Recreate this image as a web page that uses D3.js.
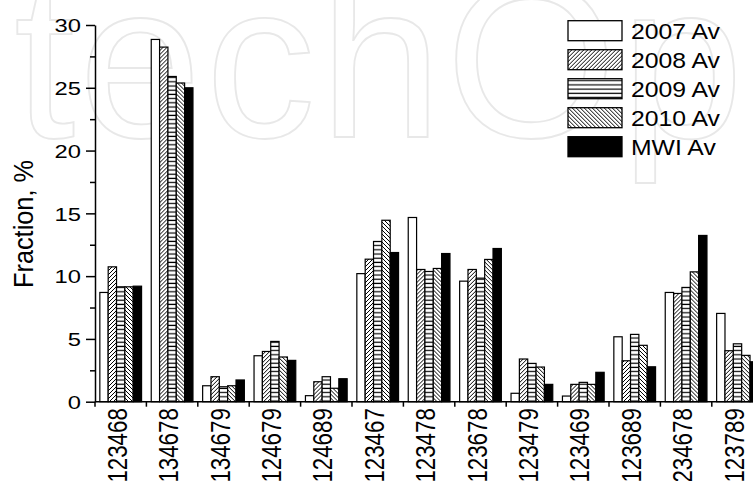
<!DOCTYPE html>
<meta charset="utf-8">
<html>
<head>
<title>Fraction chart</title>
<style>
  body { margin: 0; background: #fff; }
  svg { display: block; font-family: 'Liberation Sans', Arial, sans-serif; }
</style>
</head>
<body>
<div id="chart"></div>
<script src="https://cdn.jsdelivr.net/npm/d3@7"></script>
<script>

// data
var categories = ["123468","134678","134679","124679","124689","123467","123478",
                  "123678","123479","123469","123689","234678","123789"];
var seriesNames = ["2007 Av","2008 Av","2009 Av","2010 Av","MWI Av"];
var av2007 = [8.7, 28.85, 1.27, 3.66, 0.48, 10.2, 14.67, 9.6, 0.67, 0.45, 5.17, 8.7, 7.03];
var av2008 = [10.74, 28.24, 1.99, 4.0, 1.59, 11.35, 10.53, 10.53, 3.4, 1.38, 3.26, 8.62, 4.06];
var av2009 = [9.15, 25.9, 1.19, 4.8, 1.99, 12.76, 10.37, 9.84, 3.05, 1.54, 5.36, 9.1, 4.61];
var av2010 = [9.15, 25.38, 1.27, 3.56, 1.07, 14.45, 10.61, 11.33, 2.76, 1.38, 4.49, 10.34, 3.69];
var mwiAv  = [9.2, 25.0, 1.73, 3.29, 1.83, 11.88, 11.8, 12.2, 1.38, 2.34, 2.78, 13.24, 3.18];
var yMajorTicks = [0, 5, 10, 15, 20, 25, 30];
var yMinorTicks = [2.5, 7.5, 12.5, 17.5, 22.5, 27.5];

var seriesValues = [av2007, av2008, av2009, av2010, mwiAv];
var fills = ["#fff", "url(#hatchUp)", "url(#hatchHoriz)", "url(#hatchDown)", "#000"];

var width = 753, height = 481;
var plotLeft = 95, plotBottom = 401.7, plotTop = 25;

var svg = d3.select("#chart").append("svg")
    .attr("width", width)
    .attr("height", height);

// patterns
var defs = svg.append("defs");
defs.append("pattern").attr("id", "hatchUp")
    .attr("patternUnits", "userSpaceOnUse").attr("width", 4).attr("height", 4)
  .call(function (p) {
    p.append("rect").attr("width", 4).attr("height", 4).attr("fill", "#fff");
    p.append("path").attr("d", "M-1,1 l2,-2 M0,4 l4,-4 M3,5 l2,-2")
      .attr("stroke", "#000").attr("stroke-width", 1);
  });
defs.append("pattern").attr("id", "hatchDown")
    .attr("patternUnits", "userSpaceOnUse").attr("width", 4).attr("height", 4)
  .call(function (p) {
    p.append("rect").attr("width", 4).attr("height", 4).attr("fill", "#fff");
    p.append("path").attr("d", "M-1,3 l2,2 M0,0 l4,4 M3,-1 l2,2")
      .attr("stroke", "#000").attr("stroke-width", 1);
  });
defs.append("pattern").attr("id", "hatchHoriz")
    .attr("patternUnits", "userSpaceOnUse").attr("width", 4).attr("height", 4.2)
  .call(function (p) {
    p.append("rect").attr("width", 4).attr("height", 4.2).attr("fill", "#fff");
    p.append("line").attr("x1", 0).attr("x2", 4).attr("y1", 2).attr("y2", 2)
      .attr("stroke", "#000").attr("stroke-width", 1.2);
  });

// faint watermark in the background
svg.append("text")
    .attr("x", 14).attr("y", 137)
    .attr("font-size", 220)
    .attr("letter-spacing", 4)
    .attr("fill", "none")
    .attr("stroke", "#e8e8e8")
    .attr("stroke-width", 1.8)
    .text("techOpen");

// scales
var x0 = d3.scaleBand().domain(categories).range([plotLeft, plotLeft + 13 * 51.4]).padding(0);
var x1 = d3.scaleBand().domain(seriesNames).range([0, x0.bandwidth()])
    .paddingInner(0).paddingOuter(0.58);
var y = d3.scaleLinear().domain([0, 30]).range([plotBottom, plotTop]);

// bars
var groups = svg.selectAll(".grp")
    .data(categories).enter()
    .append("g")
    .attr("class", "grp")
    .attr("transform", function (d) { return "translate(" + x0(d) + ",0)"; });

groups.selectAll("rect")
    .data(function (d, i) {
      return seriesNames.map(function (s, k) { return {s: s, k: k, v: seriesValues[k][i]}; });
    }).enter()
    .append("rect")
    .attr("x", function (d) { return x1(d.s); })
    .attr("width", x1.bandwidth())
    .attr("y", function (d) { return y(d.v); })
    .attr("height", function (d) { return plotBottom - y(d.v); })
    .attr("fill", function (d) { return fills[d.k]; })
    .attr("stroke", "#000")
    .attr("stroke-width", 1.2);

// y axis
var yAxis = svg.append("g")
    .attr("transform", "translate(" + plotLeft + ",0)")
    .call(d3.axisLeft(y).tickValues(yMajorTicks).tickSize(9).tickSizeOuter(0));
yAxis.select(".domain").attr("stroke-width", 1.5);
yAxis.selectAll(".tick line").attr("stroke-width", 1.5);
yAxis.selectAll(".tick text")
    .attr("x", 0).attr("dy", "0.36em")
    .attr("transform", "translate(-14,0) scale(1.25,1)")
    .attr("font-size", 19)
    .attr("font-family", "'Liberation Sans', Arial, sans-serif")
    .attr("fill", "#000");

var yMinor = svg.append("g")
    .attr("transform", "translate(" + plotLeft + ",0)")
    .call(d3.axisLeft(y).tickValues(yMinorTicks).tickSize(5).tickFormat(""));
yMinor.select(".domain").remove();
yMinor.selectAll(".tick line").attr("stroke-width", 1.5);

// x axis: line + boundary ticks + rotated labels
svg.append("line")
    .attr("x1", plotLeft).attr("x2", width)
    .attr("y1", plotBottom).attr("y2", plotBottom)
    .attr("stroke", "#000").attr("stroke-width", 1.5);

svg.selectAll(".xtick")
    .data(categories).enter()
    .append("line")
    .attr("class", "xtick")
    .attr("x1", function (d) { return x0(d); })
    .attr("x2", function (d) { return x0(d); })
    .attr("y1", plotBottom).attr("y2", plotBottom + 5)
    .attr("stroke", "#000").attr("stroke-width", 1.5);

var xAxis = svg.append("g")
    .attr("transform", "translate(0," + plotBottom + ")")
    .call(d3.axisBottom(x0).tickSize(0).tickSizeOuter(0));
xAxis.select(".domain").remove();
xAxis.selectAll(".tick text")
    .attr("x", 0).attr("y", 0).attr("dy", "0.22em")
    .attr("text-anchor", "end")
    .attr("transform", "translate(0,6.5) scale(1.25,1) rotate(-90)")
    .attr("font-size", 22.3)
    .attr("font-family", "'Liberation Sans', Arial, sans-serif")
    .attr("fill", "#000");

// y title
svg.append("text")
    .attr("text-anchor", "middle")
    .attr("transform", "translate(33,224) scale(1.12,1) rotate(-90)")
    .attr("font-size", 25.3)
    .text("Fraction, %");

// legend
var legend = svg.selectAll(".leg")
    .data(seriesNames).enter()
    .append("g")
    .attr("class", "leg")
    .attr("transform", function (d, i) { return "translate(568," + (20.7 + i * 29) + ")"; });

legend.append("rect")
    .attr("width", 54).attr("height", 20)
    .attr("fill", function (d, i) { return fills[i]; })
    .attr("stroke", "#000").attr("stroke-width", 1.3);

legend.append("text")
    .attr("transform", "translate(63,18.6) scale(1.1,1)")
    .attr("font-size", 22.5)
    .text(function (d) { return d; });

</script>
</body>
</html>
